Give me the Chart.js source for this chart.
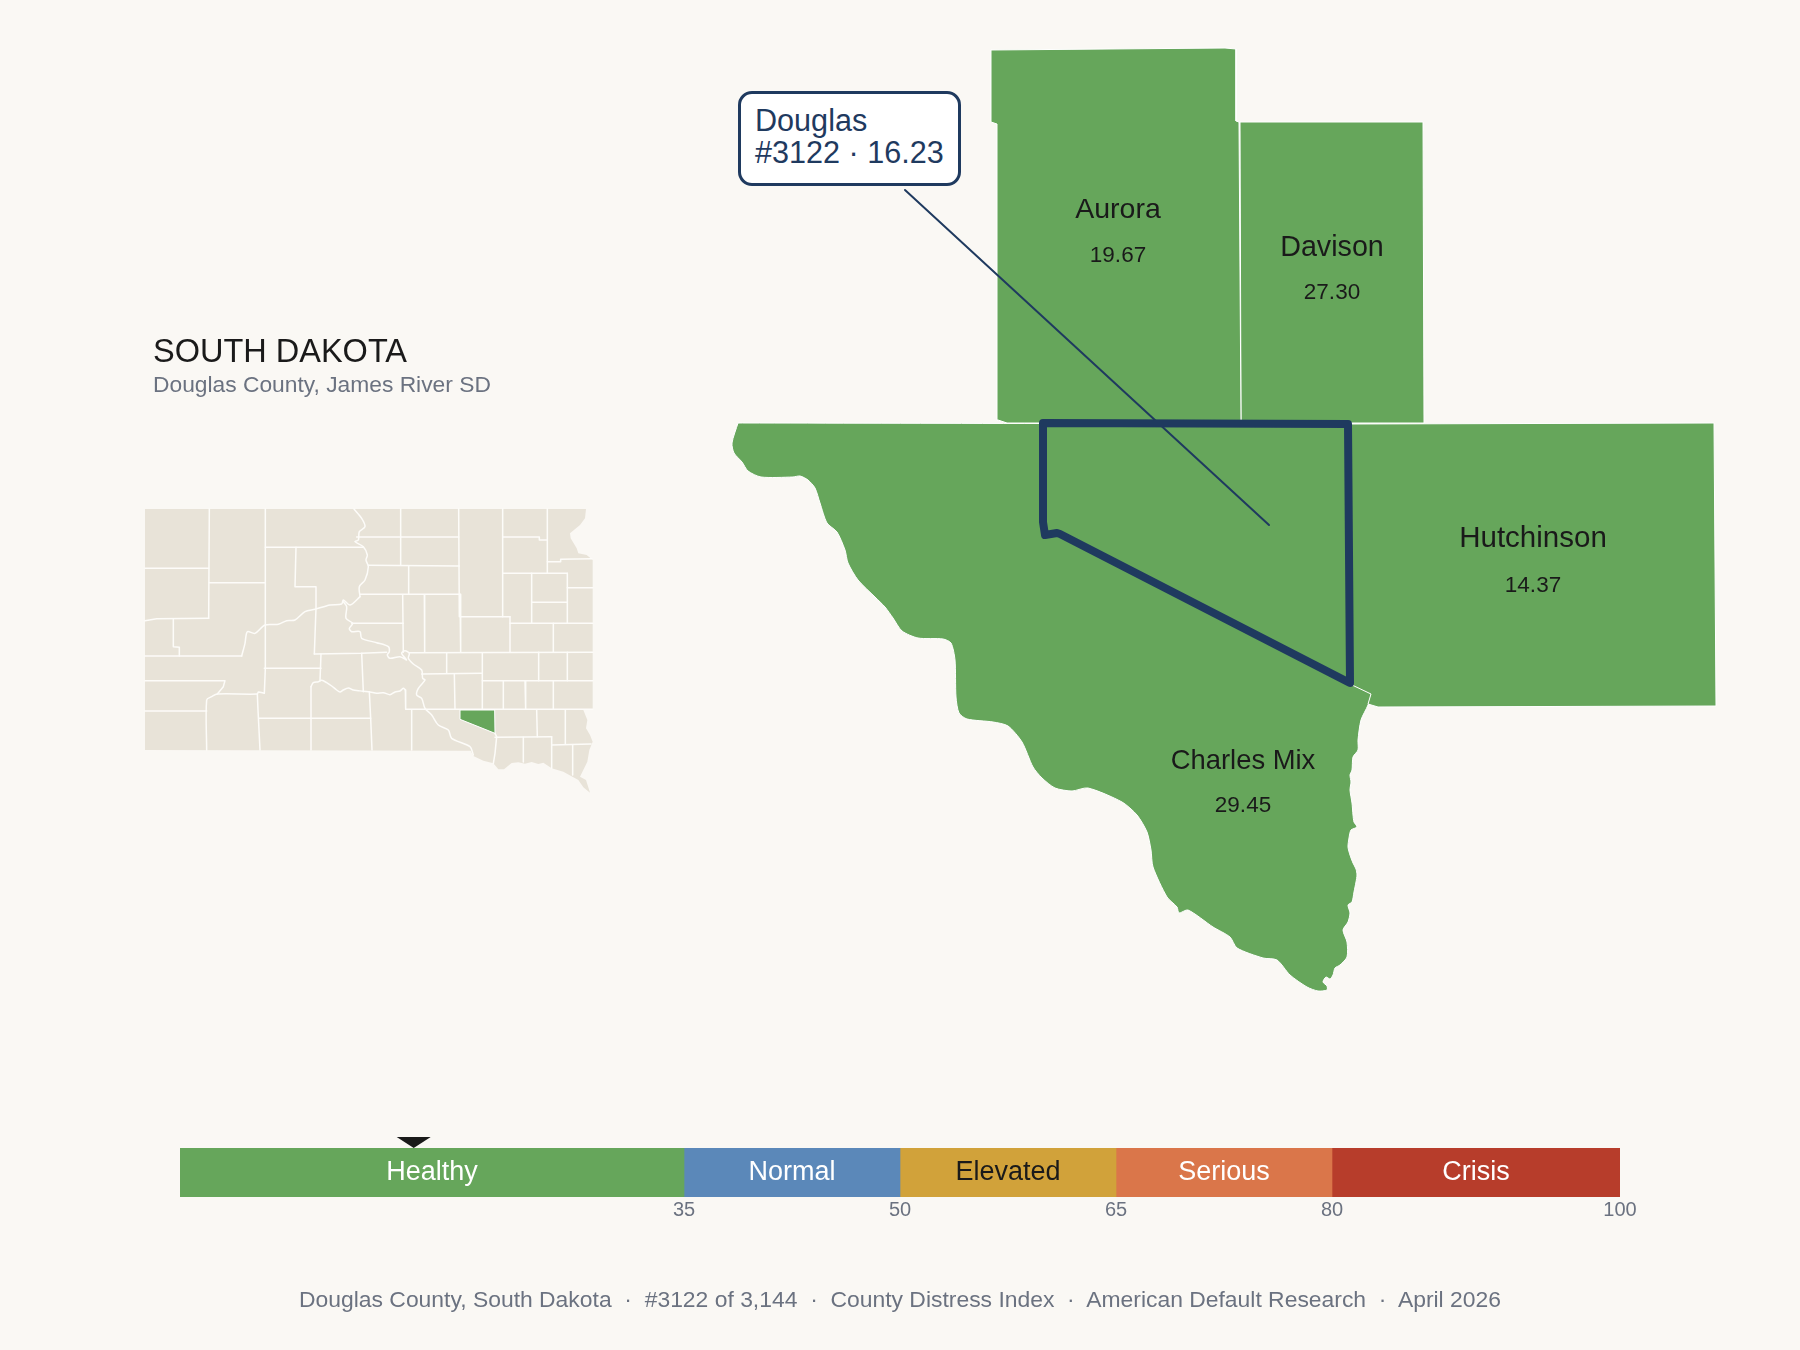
<!DOCTYPE html>
<html>
<head>
<meta charset="utf-8">
<title>Douglas County, South Dakota</title>
<script src="https://cdn.jsdelivr.net/npm/chart.js@4"></script>
<style>
  html, body { margin: 0; padding: 0; background: #faf8f4; }
  body { position: relative; width: 1800px; height: 1350px; overflow: hidden; font-family: "Liberation Sans", Arial, sans-serif; }
  canvas { position: absolute; }
  #map-chart { left: 0; top: 0; }
  #locator-chart { left: 130px; top: 490px; }
  #scale-chart { left: 0; top: 1130px; }
  .title { position: absolute; left: 153px; top: 332px; font-size: 32.5px; line-height: 38px; color: #1a1a1a; }
  .subtitle { position: absolute; left: 153px; top: 370px; font-size: 22.8px; line-height: 28px; color: #6b7280; }
  .callout {
    position: absolute; left: 738px; top: 91px; width: 217px; height: 89px; box-sizing: content-box;
    background: #fff; border: 3px solid #1f3a5f; border-radius: 14px; color: #1f3a5f;
    font-size: 30.6px; line-height: 32px;
  }
  .callout div { padding-left: 14px; white-space: nowrap; }
  .callout div:first-child { padding-top: 10px; }
  .footer { position: absolute; left: 0; width: 1800px; top: 1285px; text-align: center; font-size: 22.9px; line-height: 28px; color: #6b7280; white-space: pre; }
</style>
</head>
<body>
<canvas id="map-chart" width="1800" height="1350"></canvas>
<canvas id="locator-chart" width="480" height="320"></canvas>
<canvas id="scale-chart" width="1800" height="100"></canvas>

<div class="title">SOUTH DAKOTA</div>
<div class="subtitle">Douglas County, James River SD</div>
<div class="callout"><div>Douglas</div><div>#3122 · 16.23</div></div>
<div class="footer">Douglas County, South Dakota  ·  #3122 of 3,144  ·  County Distress Index  ·  American Default Research  ·  April 2026</div>

<script>
const GREEN = '#66a65b';
const NAVY = '#1f3a5f';
const INK = '#1a1a1a';
const LAND = '#e8e3d8';

/* ── Neighbour map data (map units) ── */
const auroraShape = [[991,50],[1225,48],[1236,49],[1236,121],[1239,122],[1241,423],[1007,423],[998,420],[997,124],[991,122],[991,50]];
const davisonShape = [[1240,122],[1423,122],[1424,423],[1241,423],[1240,122]];
const hutchinsonShape = [[1349,424],[1714,423],[1716,706],[1378,707],[1368,704],[1371,694],[1350,684],[1349,424]];
const charlesMixShape = [
  [738,423],[732,443],[734,453],[742,462],[748,471],[761,477],[793,477],[800,476],[808,480],[815,488],
  [820,503],[827,523],[837,532],[845,550],[848,563],[858,580],[875,597],[885,607],[893,618],[902,631],
  [918,638],[943,639],[951,643],[955,660],[956,697],[959,713],[967,719],[993,722],[1008,726],[1022,742],
  [1033,767],[1042,778],[1055,788],[1072,791],[1088,788],[1122,802],[1137,815],[1147,832],[1151,850],[1153,867],
  [1167,897],[1177,907],[1179,913],[1188,910],[1213,927],[1230,937],[1237,948],[1263,958],[1277,960],[1290,975],
  [1307,987],[1318,991],[1327,990],[1327,986],[1323,982],[1326,977],[1330,979],[1333,975],[1335,968],[1340,965],
  [1347,957],[1347,942],[1343,930],[1348,922],[1350,913],[1348,905],[1352,902],[1354,892],[1356,882],[1357,875],
  [1356,869],[1353,863],[1350,855],[1348,847],[1349,838],[1351,830],[1357,827],[1354,822],[1353,815],[1352,803],
  [1350,790],[1351,782],[1350,775],[1352,770],[1353,757],[1358,750],[1358,740],[1361,720],[1368,705],[1371,693],
  [1354,685],[1350,683],[1349,680],[1349,426],[1349,424],[1346,424],[745,423],[740,423],[738,423]
];
const douglasShape = [[1043,423],[1348,424],[1350,683],[1060,534],[1057,533],[1045,535],[1043,522],[1043,423]];
const leaderLine = [[905,190],[1269,525]];

const countyNames = ['Aurora', 'Davison', 'Hutchinson', 'Charles Mix'];
const countyScores = ['19.67', '27.30', '14.37', '29.45'];
const countyLabelX = [1118, 1332, 1533, 1243];
const countyNameY = [218, 256, 547, 769];
const countyScoreY = [262, 299, 592, 812];
const countyNameSizes = [28.5, 28.7, 29.5, 27.4];

/* ── Locator map data (map units) ── */
const stateOutline = [
  [45,57],[1368,57],[1365,85],[1350,105],[1320,130],[1322,145],[1340,175],[1345,190],[1370,195],[1388,210],
  [1388,657],[1360,660],[1372,690],[1368,715],[1380,735],[1388,755],[1378,780],[1372,815],[1350,860],[1368,870],
  [1380,908],[1360,892],[1345,870],[1300,845],[1265,835],[1240,818],[1225,822],[1205,816],[1185,821],[1165,817],
  [1145,819],[1122,838],[1105,838],[1090,820],[1060,812],[1030,798],[1022,782],[45,780],[45,57]
];
const locatorDouglas = [[990,660],[1094,660],[1095,730],[990,688],[990,660]];
const locatorBorders = [
  [[238,57],[236,385]], [[45,235],[236,235]], [[406,57],[406,535],[403,610]], [[238,278],[406,278]],
  [[45,392],[80,386],[236,385]], [[130,388],[130,470],[148,472],[148,498]], [[45,498],[335,498]],
  [[335,498],[345,460],[352,425],[375,430],[405,405],[445,403],[470,392],[495,390],[525,365],[555,358],[600,345],[635,342],[640,330],[660,345],[690,320]],
  [[406,172],[700,172]], [[498,172],[495,290],[558,290],[558,355],[553,492]],
  [[672,57],[695,85],[705,110],[688,125],[685,150],[675,155],[700,170],[712,195],[708,210],[715,230],[705,270],[688,290],[690,320]],
  [[812,57],[812,225]], [[680,141],[986,141]], [[986,57],[988,380]], [[715,226],[988,228]], [[836,228],[836,313]],
  [[690,313],[990,313]], [[818,315],[820,487]], [[883,315],[884,487]], [[990,313],[992,487]],
  [[640,335],[650,350],[648,385],[668,400],[658,415],[665,425],[690,425],[695,445],[740,458],[775,470],[778,485],[772,495],[780,505],[810,500],[830,510],[815,490],[825,482],[838,490],[835,505],[850,522],[875,540],[878,565],[885,570],[865,595],[860,615],[875,625],[885,655],[905,675],[925,705],[955,720],[965,745],[1020,770],[1030,795]],
  [[665,400],[820,400]], [[553,492],[695,490],[770,487]], [[695,490],[700,605]], [[573,492],[570,572]], [[403,535],[573,535]],
  [[543,590],[550,578],[565,575],[575,571],[590,578],[605,588],[620,600],[630,606],[640,600],[655,594],[670,600],[685,602],[700,604],[720,606],[740,610],[760,608],[780,614],[795,606],[810,603],[820,595],[826,600]],
  [[543,590],[543,780]], [[718,605],[722,685],[726,780]], [[388,685],[722,685]], [[382,612],[384,660],[390,780]],
  [[230,780],[230,630],[245,620],[262,612],[382,612],[385,606],[403,610]], [[45,572],[285,572],[280,590],[262,612]], [[45,663],[230,663]],
  [[826,600],[827,657]], [[827,658],[1388,658]], [[845,660],[845,780]],
  [[1095,730],[1100,740],[1095,790],[1090,820]], [[1095,742],[1265,740]], [[1180,742],[1180,816]], [[1220,660],[1222,740]],
  [[1306,660],[1306,762]], [[1265,765],[1383,762]], [[1265,740],[1265,835]], [[1328,765],[1328,855]],
  [[838,488],[1388,487]], [[950,488],[950,550]], [[1057,488],[1057,657]], [[875,552],[1057,550]], [[973,552],[975,657]],
  [[1057,572],[1388,572]], [[1120,572],[1120,657]], [[1185,572],[1187,657]], [[1270,572],[1270,657]],
  [[1140,380],[1140,487]], [[992,380],[1140,380]], [[1226,487],[1226,572]], [[1312,487],[1312,572]],
  [[1140,400],[1388,400]], [[1270,400],[1270,487]],
  [[1118,57],[1118,380]], [[1252,57],[1252,250]], [[1118,141],[1228,141],[1228,150],[1252,150]], [[1118,250],[1312,250]],
  [[1205,250],[1205,400]], [[1205,337],[1312,337]], [[1312,250],[1312,400]], [[1252,215],[1290,215],[1292,208],[1385,206]],
  [[1312,293],[1388,293]]
];

/* ── Scale bar data ── */
const bandNames = ['Healthy', 'Normal', 'Elevated', 'Serious', 'Crisis'];
const bandWidths = [35, 15, 15, 15, 20];
const bandColors = ['#66a65b', '#5b88b9', '#d1a23a', '#da764a', '#b73d2b'];
const bandTextColors = ['#ffffff', '#ffffff', '#1a1a1a', '#ffffff', '#ffffff'];
const bandTicks = [35, 50, 65, 80, 100];
const douglasScore = 16.23;

function toPoints(list) {
  return list.map(([x, y]) => ({ x, y }));
}

function shape(list, fillColor, order, tension = 0) {
  return {
    data: toPoints(list),
    showLine: true,
    fill: 'shape',
    backgroundColor: fillColor,
    borderColor: '#ffffff',
    borderWidth: 1,
    pointRadius: 0,
    tension,
    order
  };
}

function outline(list, color, width, order, tension = 0) {
  return {
    data: toPoints(list),
    showLine: true,
    fill: false,
    borderColor: color,
    borderWidth: width,
    borderJoinStyle: 'round',
    borderCapStyle: 'round',
    pointRadius: 0,
    tension,
    order
  };
}

function hiddenAxes(xMax, yMax) {
  return {
    x: { type: 'linear', display: false, min: 0, max: xMax },
    y: { type: 'linear', display: false, min: 0, max: yMax, reverse: true }
  };
}

const baseOptions = {
  responsive: false,
  animation: false,
  events: [],
  layout: { padding: 0 },
  plugins: { legend: { display: false }, tooltip: { enabled: false } }
};

/* ── Neighbour map ── */
const countyLabels = {
  id: 'countyLabels',
  afterDatasetsDraw(chart) {
    const { ctx, scales: { x, y } } = chart;
    ctx.save();
    ctx.fillStyle = INK;
    ctx.textAlign = 'center';
    ctx.textBaseline = 'alphabetic';
    countyNames.forEach((name, i) => {
      ctx.font = countyNameSizes[i] + 'px "Liberation Sans"';
      ctx.fillText(name, x.getPixelForValue(countyLabelX[i]), y.getPixelForValue(countyNameY[i]));
      ctx.font = '22.5px "Liberation Sans"';
      ctx.fillText(countyScores[i], x.getPixelForValue(countyLabelX[i]), y.getPixelForValue(countyScoreY[i]));
    });
    ctx.restore();
  }
};

new Chart(document.getElementById('map-chart'), {
  type: 'scatter',
  data: {
    datasets: [
      shape(charlesMixShape, GREEN, 5, 0.25),
      shape(hutchinsonShape, GREEN, 4),
      shape(auroraShape, GREEN, 3),
      shape(davisonShape, GREEN, 3),
      outline(douglasShape, NAVY, 8, 2),
      outline(leaderLine, NAVY, 2, 1)
    ]
  },
  options: { ...baseOptions, scales: hiddenAxes(1800, 1350) },
  plugins: [countyLabels]
});

/* ── Locator map ── */
new Chart(document.getElementById('locator-chart'), {
  type: 'scatter',
  data: {
    datasets: [
      { ...shape(stateOutline, LAND, 9), borderWidth: 0 },
      ...locatorBorders.map(line => outline(line, '#fdfcf9', 1.5, 5, line.length > 6 ? 0.3 : 0)),
      shape(locatorDouglas, GREEN, 1)
    ]
  },
  options: { ...baseOptions, scales: hiddenAxes(1440, 960) }
});

/* ── Scale bar ── */
const bandLabels = {
  id: 'bandLabels',
  afterDatasetsDraw(chart) {
    const { ctx, scales: { x }, chartArea } = chart;
    ctx.save();
    ctx.textAlign = 'center';
    ctx.textBaseline = 'alphabetic';
    ctx.font = '27px "Liberation Sans"';
    let start = 0;
    bandNames.forEach((name, i) => {
      ctx.fillStyle = bandTextColors[i];
      ctx.fillText(name, x.getPixelForValue(start + bandWidths[i] / 2), chartArea.top + 32);
      start += bandWidths[i];
    });
    const px = x.getPixelForValue(douglasScore);
    ctx.fillStyle = INK;
    ctx.beginPath();
    ctx.moveTo(px - 17, chartArea.top - 11);
    ctx.lineTo(px + 17, chartArea.top - 11);
    ctx.lineTo(px, chartArea.top);
    ctx.closePath();
    ctx.fill();
    ctx.restore();
  }
};

new Chart(document.getElementById('scale-chart'), {
  type: 'bar',
  data: {
    labels: ['Index'],
    datasets: bandNames.map((name, i) => ({
      label: name,
      data: [bandWidths[i]],
      backgroundColor: bandColors[i],
      borderWidth: 0,
      barPercentage: 1,
      categoryPercentage: 1
    }))
  },
  options: {
    ...baseOptions,
    indexAxis: 'y',
    layout: { padding: { left: 180, right: 180, top: 18, bottom: 0 } },
    scales: {
      x: {
        stacked: true,
        min: 0,
        max: 100,
        grid: { display: false, drawTicks: false },
        border: { display: false },
        afterBuildTicks: axis => { axis.ticks = bandTicks.map(value => ({ value })); },
        afterFit: axis => { axis.height = 33; },
        ticks: {
          autoSkip: false,
          maxRotation: 0,
          padding: 1,
          color: '#6b7280',
          font: { size: 20, family: '"Liberation Sans"' }
        }
      },
      y: { stacked: true, display: false }
    }
  },
  plugins: [bandLabels]
});
</script>
</body>
</html>
